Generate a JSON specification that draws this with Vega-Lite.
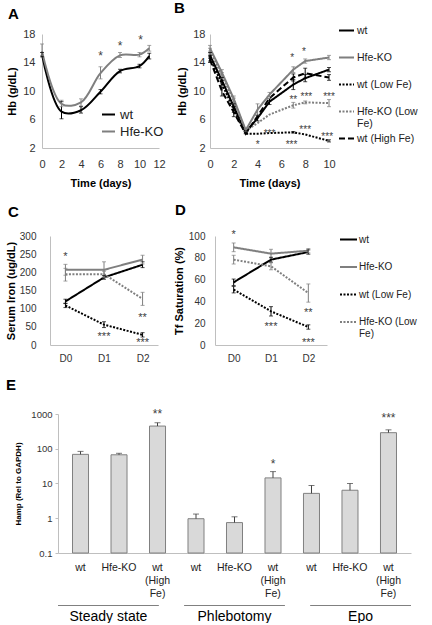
{
  "$schema": "https://vega.github.io/schema/vega-lite/v6.json",
  "padding": {"left": 5, "top": 1, "right": 0, "bottom": 0},
  "autosize": {"type": "pad"},
  "background": "white",
  "config": {
    "font": "Liberation Sans",
    "view": {"stroke": null},
    "axis": {"grid": false, "ticks": false, "labelOverlap": false, "labelFlush": false, "domainColor": "#bfbfbf", "domainWidth": 1, "labelColor": "#333333", "titleColor": "#000000", "titleFontWeight": "bold", "titleFontSize": 11, "labelFont": "Liberation Sans", "titleFont": "Liberation Sans"},
    "legend": {"symbolType": "stroke", "symbolStrokeWidth": 2, "padding": 0, "labelFont": "Liberation Sans", "labelColor": "#222222"},
    "title": {"font": "Liberation Sans", "fontSize": 15, "fontWeight": "bold", "anchor": "start", "frame": "group", "color": "#000000", "baseline": "alphabetic"},
    "text": {"font": "Liberation Sans"}
  },
  "datasets": {
    "A": [
      {"series": "wt", "day": 0, "hb": 15.1, "lo": 14.8, "hi": 15.4},
      {"series": "wt", "day": 2, "hb": 7.1, "lo": 6.1, "hi": 8.5},
      {"series": "wt", "day": 4, "hb": 7.3, "lo": 6.9, "hi": 7.8},
      {"series": "wt", "day": 6, "hb": 9.9, "lo": 9.6, "hi": 10.2},
      {"series": "wt", "day": 8, "hb": 12.8, "lo": 12.55, "hi": 13.05},
      {"series": "wt", "day": 10, "hb": 13.5, "lo": 13.25, "hi": 13.75},
      {"series": "wt", "day": 11, "hb": 14.9, "lo": 14.5, "hi": 15.3},
      {"series": "Hfe-KO", "day": 0, "hb": 15.6, "lo": 15.0, "hi": 16.6},
      {"series": "Hfe-KO", "day": 2, "hb": 8.2, "lo": 7.8, "hi": 8.7},
      {"series": "Hfe-KO", "day": 4, "hb": 8.4, "lo": 7.9, "hi": 8.9},
      {"series": "Hfe-KO", "day": 6, "hb": 12.5, "lo": 11.7, "hi": 13.4},
      {"series": "Hfe-KO", "day": 8, "hb": 15.0, "lo": 14.7, "hi": 15.4},
      {"series": "Hfe-KO", "day": 10, "hb": 15.1, "lo": 14.8, "hi": 15.4},
      {"series": "Hfe-KO", "day": 11, "hb": 16.0, "lo": 15.6, "hi": 16.4}
    ],
    "Astars": [
      {"x": 6, "y": 15.4, "t": "*"},
      {"x": 8, "y": 16.8, "t": "*"},
      {"x": 10.1, "y": 17.6, "t": "*"}
    ],
    "B": [
      {"series": "wt", "day": 0, "hb": 15.0, "lo": 14.6, "hi": 15.4},
      {"series": "wt", "day": 1, "hb": 11.5, "lo": 11.1, "hi": 11.9},
      {"series": "wt", "day": 2, "hb": 7.8, "lo": 7.4, "hi": 8.2},
      {"series": "wt", "day": 3, "hb": 4.2, "lo": 4.0, "hi": 4.4},
      {"series": "wt", "day": 4, "hb": 6.2, "lo": 5.8, "hi": 6.6},
      {"series": "wt", "day": 5, "hb": 8.5, "lo": 8.1, "hi": 8.9},
      {"series": "wt", "day": 7, "hb": 10.9, "lo": 10.2, "hi": 11.6},
      {"series": "wt", "day": 8, "hb": 11.8, "lo": 11.3, "hi": 12.3},
      {"series": "wt", "day": 10, "hb": 13.0, "lo": 12.7, "hi": 13.3},
      {"series": "Hfe-KO", "day": 0, "hb": 16.0, "lo": 15.6, "hi": 16.4},
      {"series": "Hfe-KO", "day": 1, "hb": 12.6, "lo": 12.2, "hi": 13.0},
      {"series": "Hfe-KO", "day": 2, "hb": 8.9, "lo": 8.5, "hi": 9.3},
      {"series": "Hfe-KO", "day": 3, "hb": 4.5, "lo": 4.3, "hi": 4.7},
      {"series": "Hfe-KO", "day": 4, "hb": 7.4, "lo": 6.6, "hi": 8.2},
      {"series": "Hfe-KO", "day": 5, "hb": 9.5, "lo": 9.2, "hi": 9.8},
      {"series": "Hfe-KO", "day": 7, "hb": 13.0, "lo": 12.6, "hi": 13.4},
      {"series": "Hfe-KO", "day": 8, "hb": 14.2, "lo": 13.9, "hi": 14.5},
      {"series": "Hfe-KO", "day": 10, "hb": 14.7, "lo": 14.4, "hi": 15.0},
      {"series": "wt (Low Fe)", "day": 0, "hb": 14.6, "lo": 14.2, "hi": 15.0},
      {"series": "wt (Low Fe)", "day": 1, "hb": 11.0, "lo": 10.5, "hi": 11.5},
      {"series": "wt (Low Fe)", "day": 2, "hb": 7.4, "lo": 7.0, "hi": 7.8},
      {"series": "wt (Low Fe)", "day": 3, "hb": 4.0, "lo": null, "hi": null},
      {"series": "wt (Low Fe)", "day": 4, "hb": 4.0, "lo": null, "hi": null},
      {"series": "wt (Low Fe)", "day": 5, "hb": 4.1, "lo": null, "hi": null},
      {"series": "wt (Low Fe)", "day": 7, "hb": 4.2, "lo": 4.1, "hi": 4.3},
      {"series": "wt (Low Fe)", "day": 8, "hb": 3.9, "lo": null, "hi": null},
      {"series": "wt (Low Fe)", "day": 10, "hb": 3.0, "lo": 2.85, "hi": 3.15},
      {"series": "Hfe-KO (Low Fe)", "day": 0, "hb": 15.6, "lo": 15.2, "hi": 16.0},
      {"series": "Hfe-KO (Low Fe)", "day": 1, "hb": 12.2, "lo": 11.8, "hi": 12.6},
      {"series": "Hfe-KO (Low Fe)", "day": 2, "hb": 8.6, "lo": 8.2, "hi": 9.0},
      {"series": "Hfe-KO (Low Fe)", "day": 3, "hb": 4.4, "lo": null, "hi": null},
      {"series": "Hfe-KO (Low Fe)", "day": 4, "hb": 5.5, "lo": null, "hi": null},
      {"series": "Hfe-KO (Low Fe)", "day": 5, "hb": 6.7, "lo": null, "hi": null},
      {"series": "Hfe-KO (Low Fe)", "day": 7, "hb": 8.0, "lo": 7.6, "hi": 8.4},
      {"series": "Hfe-KO (Low Fe)", "day": 8, "hb": 8.4, "lo": 8.2, "hi": 8.6},
      {"series": "Hfe-KO (Low Fe)", "day": 10, "hb": 8.3, "lo": 7.8, "hi": 8.8},
      {"series": "wt (High Fe)", "day": 0, "hb": 14.4, "lo": 14.0, "hi": 14.8},
      {"series": "wt (High Fe)", "day": 1, "hb": 10.0, "lo": 9.3, "hi": 10.4},
      {"series": "wt (High Fe)", "day": 2, "hb": 7.0, "lo": 6.4, "hi": 7.6},
      {"series": "wt (High Fe)", "day": 3, "hb": 4.0, "lo": null, "hi": null},
      {"series": "wt (High Fe)", "day": 4, "hb": 6.5, "lo": null, "hi": null},
      {"series": "wt (High Fe)", "day": 5, "hb": 9.0, "lo": null, "hi": null},
      {"series": "wt (High Fe)", "day": 7, "hb": 11.9, "lo": 11.4, "hi": 12.4},
      {"series": "wt (High Fe)", "day": 8, "hb": 12.5, "lo": 11.8, "hi": 13.2},
      {"series": "wt (High Fe)", "day": 10, "hb": 11.9, "lo": 11.5, "hi": 12.3}
    ],
    "Bstars": [
      {"x": 6.9, "y": 15.1, "t": "*"},
      {"x": 7.9, "y": 15.9, "t": "*"},
      {"x": 7.0, "y": 9.2, "t": "**"},
      {"x": 8.1, "y": 9.55, "t": "***"},
      {"x": 10.0, "y": 9.55, "t": "***"},
      {"x": 5.0, "y": 4.4, "t": "***"},
      {"x": 8.0, "y": 5.0, "t": "***"},
      {"x": 9.85, "y": 4.0, "t": "***"},
      {"x": 4.0, "y": 2.8, "t": "*"},
      {"x": 6.85, "y": 2.8, "t": "***"}
    ],
    "C": [
      {"series": "wt", "day": "D0", "v": 120, "lo": 114, "hi": 126},
      {"series": "wt", "day": "D1", "v": 186, "lo": 181, "hi": 191},
      {"series": "wt", "day": "D2", "v": 221, "lo": 213, "hi": 229},
      {"series": "Hfe-KO", "day": "D0", "v": 207, "lo": 192, "hi": 222},
      {"series": "Hfe-KO", "day": "D1", "v": 207, "lo": 185, "hi": 229},
      {"series": "Hfe-KO", "day": "D2", "v": 235, "lo": 223, "hi": 247},
      {"series": "wt (Low Fe)", "day": "D0", "v": 109, "lo": 103, "hi": 115},
      {"series": "wt (Low Fe)", "day": "D1", "v": 56, "lo": 48, "hi": 64},
      {"series": "wt (Low Fe)", "day": "D2", "v": 28, "lo": 22, "hi": 34},
      {"series": "Hfe-KO (Low Fe)", "day": "D0", "v": 195, "lo": 176, "hi": 211},
      {"series": "Hfe-KO (Low Fe)", "day": "D1", "v": 195, "lo": 187, "hi": 203},
      {"series": "Hfe-KO (Low Fe)", "day": "D2", "v": 127, "lo": 109, "hi": 145}
    ],
    "Cstars": [
      {"day": "D0", "y": 251, "t": "*"},
      {"day": "D2", "y": 83, "t": "**"},
      {"day": "D1", "y": 31, "t": "***"},
      {"day": "D2", "y": 15, "t": "***"}
    ],
    "D": [
      {"series": "wt", "day": "D0", "v": 57.5, "lo": 54.5, "hi": 60.5},
      {"series": "wt", "day": "D1", "v": 78.3, "lo": 76, "hi": 80.5},
      {"series": "wt", "day": "D2", "v": 85.3, "lo": 83.3, "hi": 87.3},
      {"series": "Hfe-KO", "day": "D0", "v": 89.6, "lo": 85.6, "hi": 93.6},
      {"series": "Hfe-KO", "day": "D1", "v": 83.8, "lo": 79.8, "hi": 87.8},
      {"series": "Hfe-KO", "day": "D2", "v": 86.5, "lo": 84.5, "hi": 88.5},
      {"series": "wt (Low Fe)", "day": "D0", "v": 50.8, "lo": 47.8, "hi": 53.8},
      {"series": "wt (Low Fe)", "day": "D1", "v": 30.9, "lo": 26.6, "hi": 35.2},
      {"series": "wt (Low Fe)", "day": "D2", "v": 16.5, "lo": 14.5, "hi": 18.5},
      {"series": "Hfe-KO (Low Fe)", "day": "D0", "v": 78.3, "lo": 74.3, "hi": 82.3},
      {"series": "Hfe-KO (Low Fe)", "day": "D1", "v": 72.2, "lo": 69, "hi": 75.4},
      {"series": "Hfe-KO (Low Fe)", "day": "D2", "v": 47.7, "lo": 39.3, "hi": 56}
    ],
    "Dstars": [
      {"day": "D0", "y": 104, "t": "*"},
      {"day": "D2", "y": 32.4, "t": "**"},
      {"day": "D1", "y": 19.3, "t": "***"},
      {"day": "D2", "y": 4.9, "t": "***"}
    ],
    "E": [
      {"cond": "Steady state|wt", "v": 69, "hi": 84},
      {"cond": "Steady state|Hfe-KO", "v": 67, "hi": 74},
      {"cond": "Steady state|wt (High Fe)", "v": 450, "hi": 560},
      {"cond": "Phlebotomy|wt", "v": 0.97, "hi": 1.32},
      {"cond": "Phlebotomy|Hfe-KO", "v": 0.75, "hi": 1.1},
      {"cond": "Phlebotomy|wt (High Fe)", "v": 14.5, "hi": 22},
      {"cond": "Epo|wt", "v": 5.2, "hi": 8.8},
      {"cond": "Epo|Hfe-KO", "v": 6.4, "hi": 10},
      {"cond": "Epo|wt (High Fe)", "v": 290, "hi": 350}
    ],
    "Estars": [
      {"cond": "Steady state|wt (High Fe)", "y": 1250, "t": "**"},
      {"cond": "Phlebotomy|wt (High Fe)", "y": 44, "t": "*"},
      {"cond": "Epo|wt (High Fe)", "y": 930, "t": "***"}
    ],
    "G": [
      {"group": "Steady state"},
      {"group": "Phlebotomy"},
      {"group": "Epo"}
    ]
  },
  "spacing": 14,
  "resolve": {"scale": {"color": "independent", "strokeDash": "independent"}, "legend": {"color": "independent", "strokeDash": "independent"}},
  "vconcat": [
    {
      "spacing": 14,
      "resolve": {"scale": {"color": "independent", "strokeDash": "independent"}, "legend": {"color": "independent", "strokeDash": "independent"}},
      "vconcat": [
        {
          "bounds": "flush",
          "spacing": 0,
          "resolve": {"scale": {"color": "independent", "strokeDash": "independent"}, "legend": {"color": "independent", "strokeDash": "independent"}},
          "hconcat": [
            {"width": 30, "height": 1, "data": {"values": [{"a": 0}]}, "mark": {"type": "point", "opacity": 0}, "encoding": {}},
            {
              "bounds": "flush",
              "spacing": 51,
              "resolve": {"scale": {"color": "independent", "strokeDash": "independent"}, "legend": {"color": "independent", "strokeDash": "independent"}},
              "hconcat": [
                {
                  "width": 117,
                  "height": 114,
                  "title": {"text": "A", "dx": -34, "offset": 6},
                  "data": {"name": "A"},
                  "layer": [
                    {
                      "mark": {"type": "line", "interpolate": "catmull-rom", "strokeWidth": 2},
                      "encoding": {
                        "x": {"field": "day", "type": "quantitative", "scale": {"domain": [0, 12], "nice": false}, "axis": {"values": [0, 2, 4, 6, 8, 10, 12], "labelOverlap": false, "title": "Time (days)", "labelFontSize": 11, "labelPadding": 10, "titlePadding": 8}},
                        "y": {"field": "hb", "type": "quantitative", "scale": {"domain": [2, 18], "nice": false}, "axis": {"values": [2, 6, 10, 14, 18], "labelOverlap": false, "title": "Hb (g/dL)", "labelFontSize": 11, "labelPadding": 7, "titlePadding": 5}},
                        "color": {"field": "series", "type": "nominal", "scale": {"domain": ["wt", "Hfe-KO"], "range": ["#000000", "#7f7f7f"]}, "legend": {"title": null, "orient": "none", "legendX": 59, "legendY": 73, "labelFontSize": 13, "symbolSize": 169, "labelOffset": 4, "rowPadding": 2}}
                      }
                    },
                    {
                      "transform": [{"filter": "isValid(datum.lo)"}],
                      "mark": {"type": "rule", "strokeWidth": 1},
                      "encoding": {
                        "x": {"field": "day", "type": "quantitative", "axis": {"values": [0, 2, 4, 6, 8, 10, 12], "labelOverlap": false, "title": "Time (days)", "labelFontSize": 11, "labelPadding": 10, "titlePadding": 8}},
                        "y": {"field": "lo", "type": "quantitative", "axis": {"values": [2, 6, 10, 14, 18], "labelOverlap": false, "title": "Hb (g/dL)", "labelFontSize": 11, "labelPadding": 7, "titlePadding": 5}},
                        "y2": {"field": "hi"},
                        "color": {"field": "series", "type": "nominal", "legend": null}
                      }
                    },
                    {
                      "transform": [{"filter": "isValid(datum.lo)"}],
                      "mark": {"type": "tick", "orient": "horizontal", "size": 4, "thickness": 1},
                      "encoding": {
                        "x": {"field": "day", "type": "quantitative", "axis": {"values": [0, 2, 4, 6, 8, 10, 12], "labelOverlap": false, "title": "Time (days)", "labelFontSize": 11, "labelPadding": 10, "titlePadding": 8}},
                        "y": {"field": "lo", "type": "quantitative", "axis": {"values": [2, 6, 10, 14, 18], "labelOverlap": false, "title": "Hb (g/dL)", "labelFontSize": 11, "labelPadding": 7, "titlePadding": 5}},
                        "color": {"field": "series", "type": "nominal", "legend": null}
                      }
                    },
                    {
                      "transform": [{"filter": "isValid(datum.hi)"}],
                      "mark": {"type": "tick", "orient": "horizontal", "size": 4, "thickness": 1},
                      "encoding": {
                        "x": {"field": "day", "type": "quantitative", "axis": {"values": [0, 2, 4, 6, 8, 10, 12], "labelOverlap": false, "title": "Time (days)", "labelFontSize": 11, "labelPadding": 10, "titlePadding": 8}},
                        "y": {"field": "hi", "type": "quantitative", "axis": {"values": [2, 6, 10, 14, 18], "labelOverlap": false, "title": "Hb (g/dL)", "labelFontSize": 11, "labelPadding": 7, "titlePadding": 5}},
                        "color": {"field": "series", "type": "nominal", "legend": null}
                      }
                    },
                    {
                      "data": {"name": "Astars"},
                      "mark": {"type": "text", "fontSize": 12, "color": "#404040", "baseline": "middle", "dy": 3},
                      "encoding": {
                        "x": {"field": "x", "type": "quantitative", "axis": {"values": [0, 2, 4, 6, 8, 10, 12], "labelOverlap": false, "title": "Time (days)", "labelFontSize": 11, "labelPadding": 10, "titlePadding": 8}},
                        "y": {"field": "y", "type": "quantitative", "axis": {"values": [2, 6, 10, 14, 18], "labelOverlap": false, "title": "Hb (g/dL)", "labelFontSize": 11, "labelPadding": 7, "titlePadding": 5}},
                        "text": {"field": "t"}
                      }
                    }
                  ]
                },
                {
                  "width": 119,
                  "height": 114,
                  "title": {"text": "B", "dx": -36, "offset": 6},
                  "data": {"name": "B"},
                  "layer": [
                    {
                      "mark": {"type": "line", "strokeWidth": 2},
                      "encoding": {
                        "x": {"field": "day", "type": "quantitative", "scale": {"domain": [0, 10], "nice": false}, "axis": {"values": [0, 2, 4, 6, 8, 10], "labelOverlap": false, "title": "Time (days)", "labelFontSize": 11, "labelPadding": 10, "titlePadding": 8}},
                        "y": {"field": "hb", "type": "quantitative", "scale": {"domain": [2, 18], "nice": false}, "axis": {"values": [2, 6, 10, 14, 18], "labelOverlap": false, "title": "Hb (g/dL)", "labelFontSize": 11, "labelPadding": 5, "titlePadding": 5}},
                        "color": {"field": "series", "type": "nominal", "scale": {"domain": ["wt", "Hfe-KO", "wt (Low Fe)", "Hfe-KO (Low Fe)", "wt (High Fe)"], "range": ["#000000", "#7f7f7f", "#000000", "#7f7f7f", "#000000"]}, "legend": {"title": null, "orient": "none", "legendX": 128, "legendY": -12, "gridAlign": "all", "labelFontSize": 10.5, "symbolSize": 225, "labelOffset": 2, "rowPadding": -1, "labelExpr": "datum.label == 'Hfe-KO (Low Fe)' ? ['Hfe-KO (Low', 'Fe)'] : datum.label"}},
                        "strokeDash": {"field": "series", "type": "nominal", "scale": {"domain": ["wt", "Hfe-KO", "wt (Low Fe)", "Hfe-KO (Low Fe)", "wt (High Fe)"], "range": [[1, 0], [1, 0], [2, 1.5], [2, 1.5], [6, 3]]}, "legend": {"title": null, "orient": "none", "legendX": 128, "legendY": -12, "gridAlign": "all", "labelFontSize": 10.5, "symbolSize": 225, "labelOffset": 2, "rowPadding": -1, "labelExpr": "datum.label == 'Hfe-KO (Low Fe)' ? ['Hfe-KO (Low', 'Fe)'] : datum.label"}}
                      }
                    },
                    {
                      "transform": [{"filter": "isValid(datum.lo)"}],
                      "mark": {"type": "rule", "strokeWidth": 1},
                      "encoding": {
                        "x": {"field": "day", "type": "quantitative", "axis": {"values": [0, 2, 4, 6, 8, 10], "labelOverlap": false, "title": "Time (days)", "labelFontSize": 11, "labelPadding": 10, "titlePadding": 8}},
                        "y": {"field": "lo", "type": "quantitative", "axis": {"values": [2, 6, 10, 14, 18], "labelOverlap": false, "title": "Hb (g/dL)", "labelFontSize": 11, "labelPadding": 5, "titlePadding": 5}},
                        "y2": {"field": "hi"},
                        "color": {"field": "series", "type": "nominal", "legend": null}
                      }
                    },
                    {
                      "transform": [{"filter": "isValid(datum.lo)"}],
                      "mark": {"type": "tick", "orient": "horizontal", "size": 4, "thickness": 1},
                      "encoding": {
                        "x": {"field": "day", "type": "quantitative", "axis": {"values": [0, 2, 4, 6, 8, 10], "labelOverlap": false, "title": "Time (days)", "labelFontSize": 11, "labelPadding": 10, "titlePadding": 8}},
                        "y": {"field": "lo", "type": "quantitative", "axis": {"values": [2, 6, 10, 14, 18], "labelOverlap": false, "title": "Hb (g/dL)", "labelFontSize": 11, "labelPadding": 5, "titlePadding": 5}},
                        "color": {"field": "series", "type": "nominal", "legend": null}
                      }
                    },
                    {
                      "transform": [{"filter": "isValid(datum.hi)"}],
                      "mark": {"type": "tick", "orient": "horizontal", "size": 4, "thickness": 1},
                      "encoding": {
                        "x": {"field": "day", "type": "quantitative", "axis": {"values": [0, 2, 4, 6, 8, 10], "labelOverlap": false, "title": "Time (days)", "labelFontSize": 11, "labelPadding": 10, "titlePadding": 8}},
                        "y": {"field": "hi", "type": "quantitative", "axis": {"values": [2, 6, 10, 14, 18], "labelOverlap": false, "title": "Hb (g/dL)", "labelFontSize": 11, "labelPadding": 5, "titlePadding": 5}},
                        "color": {"field": "series", "type": "nominal", "legend": null}
                      }
                    },
                    {
                      "data": {"name": "Bstars"},
                      "mark": {"type": "text", "fontSize": 10, "color": "#404040", "baseline": "middle", "dy": 3},
                      "encoding": {
                        "x": {"field": "x", "type": "quantitative", "axis": {"values": [0, 2, 4, 6, 8, 10], "labelOverlap": false, "title": "Time (days)", "labelFontSize": 11, "labelPadding": 10, "titlePadding": 8}},
                        "y": {"field": "y", "type": "quantitative", "axis": {"values": [2, 6, 10, 14, 18], "labelOverlap": false, "title": "Hb (g/dL)", "labelFontSize": 11, "labelPadding": 5, "titlePadding": 5}},
                        "text": {"field": "t"}
                      }
                    }
                  ]
                }
              ]
            }
          ]
        },
        {
          "bounds": "flush",
          "spacing": 0,
          "resolve": {"scale": {"color": "independent", "strokeDash": "independent"}, "legend": {"color": "independent", "strokeDash": "independent"}},
          "hconcat": [
            {"width": 38, "height": 1, "data": {"values": [{"a": 0}]}, "mark": {"type": "point", "opacity": 0}, "encoding": {}},
            {
              "bounds": "flush",
              "spacing": 57,
              "resolve": {"scale": {"color": "independent", "strokeDash": "independent"}, "legend": {"color": "independent", "strokeDash": "independent"}},
              "hconcat": [
                {
                  "width": 108,
                  "height": 109,
                  "title": {"text": "C", "dx": -42, "offset": 11},
                  "data": {"name": "C"},
                  "layer": [
                    {
                      "mark": {"type": "line", "strokeWidth": 2},
                      "encoding": {
                        "x": {"field": "day", "type": "ordinal", "scale": {"type": "point", "domain": ["D0", "D1", "D2"], "padding": 0.4}, "axis": {"title": null, "labelAngle": 0, "labelOverlap": false, "labelFontSize": 10, "labelPadding": 8}},
                        "y": {"field": "v", "type": "quantitative", "scale": {"domain": [0, 300], "nice": false}, "axis": {"values": [0, 50, 100, 150, 200, 250, 300], "labelOverlap": false, "title": "Serum Iron (ug/dL)", "labelFontSize": 10, "labelPadding": 14, "titlePadding": 3}},
                        "color": {"field": "series", "type": "nominal", "scale": {"domain": ["wt", "Hfe-KO", "wt (Low Fe)", "Hfe-KO (Low Fe)"], "range": ["#000000", "#7f7f7f", "#000000", "#7f7f7f"]}, "legend": null},
                        "strokeDash": {"field": "series", "type": "nominal", "scale": {"domain": ["wt", "Hfe-KO", "wt (Low Fe)", "Hfe-KO (Low Fe)"], "range": [[1, 0], [1, 0], [2, 1.5], [2, 1.5]]}, "legend": null}
                      }
                    },
                    {
                      "mark": {"type": "rule", "strokeWidth": 1},
                      "encoding": {
                        "x": {"field": "day", "type": "ordinal", "axis": {"title": null, "labelAngle": 0, "labelOverlap": false, "labelFontSize": 10, "labelPadding": 8}},
                        "y": {"field": "lo", "type": "quantitative", "axis": {"values": [0, 50, 100, 150, 200, 250, 300], "labelOverlap": false, "title": "Serum Iron (ug/dL)", "labelFontSize": 10, "labelPadding": 14, "titlePadding": 3}},
                        "y2": {"field": "hi"},
                        "color": {"field": "series", "type": "nominal", "legend": null}
                      }
                    },
                    {
                      "mark": {"type": "tick", "orient": "horizontal", "size": 4, "thickness": 1},
                      "encoding": {
                        "x": {"field": "day", "type": "ordinal", "axis": {"title": null, "labelAngle": 0, "labelOverlap": false, "labelFontSize": 10, "labelPadding": 8}},
                        "y": {"field": "lo", "type": "quantitative", "axis": {"values": [0, 50, 100, 150, 200, 250, 300], "labelOverlap": false, "title": "Serum Iron (ug/dL)", "labelFontSize": 10, "labelPadding": 14, "titlePadding": 3}},
                        "color": {"field": "series", "type": "nominal", "legend": null}
                      }
                    },
                    {
                      "mark": {"type": "tick", "orient": "horizontal", "size": 4, "thickness": 1},
                      "encoding": {
                        "x": {"field": "day", "type": "ordinal", "axis": {"title": null, "labelAngle": 0, "labelOverlap": false, "labelFontSize": 10, "labelPadding": 8}},
                        "y": {"field": "hi", "type": "quantitative", "axis": {"values": [0, 50, 100, 150, 200, 250, 300], "labelOverlap": false, "title": "Serum Iron (ug/dL)", "labelFontSize": 10, "labelPadding": 14, "titlePadding": 3}},
                        "color": {"field": "series", "type": "nominal", "legend": null}
                      }
                    },
                    {
                      "data": {"name": "Cstars"},
                      "mark": {"type": "text", "fontSize": 11, "color": "#404040", "baseline": "middle", "dy": 3},
                      "encoding": {
                        "x": {"field": "day", "type": "ordinal", "axis": {"title": null, "labelAngle": 0, "labelOverlap": false, "labelFontSize": 10, "labelPadding": 8}},
                        "y": {"field": "y", "type": "quantitative", "axis": {"values": [0, 50, 100, 150, 200, 250, 300], "labelOverlap": false, "title": "Serum Iron (ug/dL)", "labelFontSize": 10, "labelPadding": 14, "titlePadding": 3}},
                        "text": {"field": "t"}
                      }
                    }
                  ]
                },
                {
                  "width": 112,
                  "height": 109,
                  "title": {"text": "D", "dx": -40, "offset": 11},
                  "data": {"name": "D"},
                  "layer": [
                    {
                      "mark": {"type": "line", "strokeWidth": 2},
                      "encoding": {
                        "x": {"field": "day", "type": "ordinal", "scale": {"type": "point", "domain": ["D0", "D1", "D2"], "padding": 0.5}, "axis": {"title": null, "labelAngle": 0, "labelOverlap": false, "labelFontSize": 10, "labelPadding": 8}},
                        "y": {"field": "v", "type": "quantitative", "scale": {"domain": [0, 100], "nice": false}, "axis": {"values": [0, 20, 40, 60, 80, 100], "labelOverlap": false, "title": "Tf Saturation (%)", "labelFontSize": 10, "labelPadding": 10, "titlePadding": 4}},
                        "color": {"field": "series", "type": "nominal", "scale": {"domain": ["wt", "Hfe-KO", "wt (Low Fe)", "Hfe-KO (Low Fe)"], "range": ["#000000", "#7f7f7f", "#000000", "#7f7f7f"]}, "legend": {"title": null, "orient": "none", "legendX": 124, "legendY": -6, "labelFontSize": 10, "symbolSize": 289, "labelOffset": 1, "rowPadding": 12.5, "labelExpr": "datum.label == 'Hfe-KO (Low Fe)' ? ['Hfe-KO (Low', 'Fe)'] : datum.label"}},
                        "strokeDash": {"field": "series", "type": "nominal", "scale": {"domain": ["wt", "Hfe-KO", "wt (Low Fe)", "Hfe-KO (Low Fe)"], "range": [[1, 0], [1, 0], [2, 1.5], [2, 1.5]]}, "legend": {"title": null, "orient": "none", "legendX": 124, "legendY": -6, "labelFontSize": 10, "symbolSize": 289, "labelOffset": 1, "rowPadding": 12.5, "labelExpr": "datum.label == 'Hfe-KO (Low Fe)' ? ['Hfe-KO (Low', 'Fe)'] : datum.label"}}
                      }
                    },
                    {
                      "mark": {"type": "rule", "strokeWidth": 1},
                      "encoding": {
                        "x": {"field": "day", "type": "ordinal", "axis": {"title": null, "labelAngle": 0, "labelOverlap": false, "labelFontSize": 10, "labelPadding": 8}},
                        "y": {"field": "lo", "type": "quantitative", "axis": {"values": [0, 20, 40, 60, 80, 100], "labelOverlap": false, "title": "Tf Saturation (%)", "labelFontSize": 10, "labelPadding": 10, "titlePadding": 4}},
                        "y2": {"field": "hi"},
                        "color": {"field": "series", "type": "nominal", "legend": null}
                      }
                    },
                    {
                      "mark": {"type": "tick", "orient": "horizontal", "size": 4, "thickness": 1},
                      "encoding": {
                        "x": {"field": "day", "type": "ordinal", "axis": {"title": null, "labelAngle": 0, "labelOverlap": false, "labelFontSize": 10, "labelPadding": 8}},
                        "y": {"field": "lo", "type": "quantitative", "axis": {"values": [0, 20, 40, 60, 80, 100], "labelOverlap": false, "title": "Tf Saturation (%)", "labelFontSize": 10, "labelPadding": 10, "titlePadding": 4}},
                        "color": {"field": "series", "type": "nominal", "legend": null}
                      }
                    },
                    {
                      "mark": {"type": "tick", "orient": "horizontal", "size": 4, "thickness": 1},
                      "encoding": {
                        "x": {"field": "day", "type": "ordinal", "axis": {"title": null, "labelAngle": 0, "labelOverlap": false, "labelFontSize": 10, "labelPadding": 8}},
                        "y": {"field": "hi", "type": "quantitative", "axis": {"values": [0, 20, 40, 60, 80, 100], "labelOverlap": false, "title": "Tf Saturation (%)", "labelFontSize": 10, "labelPadding": 10, "titlePadding": 4}},
                        "color": {"field": "series", "type": "nominal", "legend": null}
                      }
                    },
                    {
                      "data": {"name": "Dstars"},
                      "mark": {"type": "text", "fontSize": 11, "color": "#404040", "baseline": "middle", "dy": 3},
                      "encoding": {
                        "x": {"field": "day", "type": "ordinal", "axis": {"title": null, "labelAngle": 0, "labelOverlap": false, "labelFontSize": 10, "labelPadding": 8}},
                        "y": {"field": "y", "type": "quantitative", "axis": {"values": [0, 20, 40, 60, 80, 100], "labelOverlap": false, "title": "Tf Saturation (%)", "labelFontSize": 10, "labelPadding": 10, "titlePadding": 4}},
                        "text": {"field": "t"}
                      }
                    }
                  ]
                }
              ]
            }
          ]
        }
      ]
    },
    {
      "bounds": "flush",
      "spacing": 0,
      "hconcat": [
        {"width": 46, "height": 1, "data": {"values": [{"a": 0}]}, "mark": {"type": "point", "opacity": 0}, "encoding": {}},
        {
          "bounds": "flush",
          "spacing": 52,
          "vconcat": [
            {
              "width": 353,
              "height": 139,
              "title": {"text": "E", "dx": -52, "offset": 15},
              "data": {"name": "E"},
              "layer": [
                {
                  "mark": {"type": "bar", "fill": "#d9d9d9", "stroke": "#808080", "strokeWidth": 1},
                  "encoding": {
                    "x": {"field": "cond", "type": "nominal", "scale": {"domain": ["Steady state|wt", "Steady state|Hfe-KO", "Steady state|wt (High Fe)", "Phlebotomy|wt", "Phlebotomy|Hfe-KO", "Phlebotomy|wt (High Fe)", "Epo|wt", "Epo|Hfe-KO", "Epo|wt (High Fe)"], "paddingInner": 0.584, "paddingOuter": 0.377, "align": 0.5}, "axis": {"title": null, "labelAngle": 0, "labelOverlap": false, "labelExpr": "indexof(datum.value, 'High') >= 0 ? ['wt', '(High', 'Fe)'] : split(datum.value, '|')[1]", "labelFontSize": 10.5, "labelColor": "#222222", "labelPadding": 9, "labelLineHeight": 13}},
                    "y": {"field": "v", "type": "quantitative", "scale": {"type": "log", "domain": [0.1, 1000], "nice": false}, "axis": {"values": [0.1, 1, 10, 100, 1000], "labelOverlap": false, "format": "~g", "ticks": true, "tickSize": 3, "tickColor": "#bfbfbf", "labelFontSize": 9.5, "labelPadding": 3, "title": "Hamp (Rel to GAPDH)", "titleFontSize": 8, "titlePadding": 8}},
                    "y2": {"datum": 0.1}
                  }
                },
                {
                  "mark": {"type": "rule", "color": "#404040", "strokeWidth": 1},
                  "encoding": {
                    "x": {"field": "cond", "type": "nominal"},
                    "y": {"field": "v", "type": "quantitative"},
                    "y2": {"field": "hi"}
                  }
                },
                {
                  "mark": {"type": "tick", "orient": "horizontal", "size": 6, "thickness": 1, "color": "#404040"},
                  "encoding": {
                    "x": {"field": "cond", "type": "nominal"},
                    "y": {"field": "hi", "type": "quantitative"}
                  }
                },
                {
                  "data": {"name": "Estars"},
                  "mark": {"type": "text", "fontSize": 12, "color": "#404040", "baseline": "middle", "dy": 3},
                  "encoding": {
                    "x": {"field": "cond", "type": "nominal"},
                    "y": {"field": "y", "type": "quantitative"},
                    "text": {"field": "t"}
                  }
                }
              ]
            },
            {
              "width": 353,
              "height": 1,
              "data": {"name": "G"},
              "mark": {"type": "bar", "color": "#808080"},
              "encoding": {
                "x": {"field": "group", "type": "nominal", "sort": null, "scale": {"paddingInner": 0.2, "paddingOuter": 0}, "axis": {"title": null, "domain": false, "ticks": false, "labelAngle": 0, "labelFontSize": 14, "labelColor": "#000000", "labelPadding": 3}}
              }
            }
          ]
        }
      ]
    }
  ]
}
